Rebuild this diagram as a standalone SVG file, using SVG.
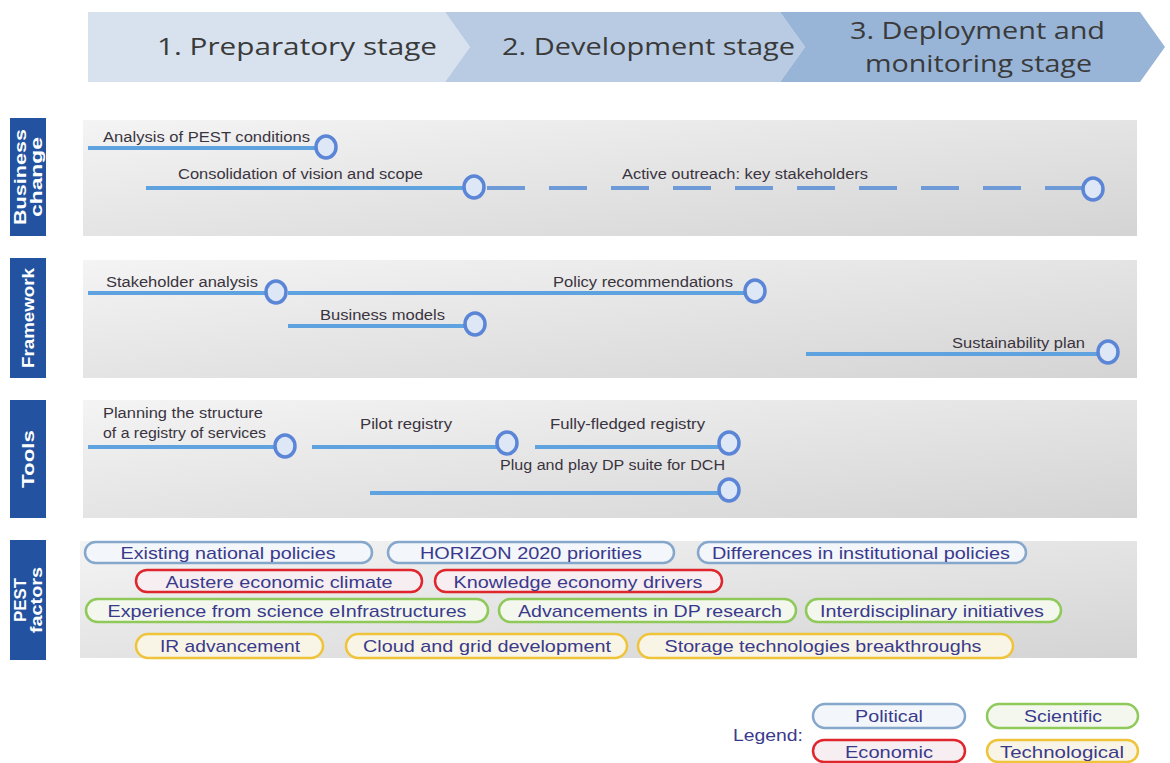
<svg xmlns="http://www.w3.org/2000/svg" width="1170" height="763" viewBox="0 0 1170 763">
<defs>
<linearGradient id="band" x1="0" y1="0" x2="1" y2="1">
<stop offset="0" stop-color="#f4f4f4"/>
<stop offset="1" stop-color="#d4d4d4"/>
</linearGradient>
<style>
.stage{font-family:"Open Sans","Liberation Sans",sans-serif;font-size:24px;fill:#3a3a3a;}
.lbl{font-family:"Liberation Sans",Arial,sans-serif;font-size:17px;font-weight:bold;fill:#ffffff;}
.lblbox{fill:#2353a0;}
.bandr{fill:url(#band);}
.t{font-family:"Liberation Sans",Arial,sans-serif;font-size:14px;fill:#3a3440;}
.ln{stroke:#5ea2e0;stroke-width:4;fill:none;}
.dash{stroke:#6f9ad8;stroke-width:4;fill:none;stroke-dasharray:38 24;}
.ms{fill:#dde7f5;stroke:#5b85d6;stroke-width:3.5;}
.pill{stroke-width:2.5;}
.pol{fill:#f3f6fb;stroke:#86a7cc;}
.eco{fill:#f6eef0;stroke:#e0262d;}
.sci{fill:#f3f7ee;stroke:#8fc95a;}
.tec{fill:#f8f4e6;stroke:#efc33a;}
.pt{font-family:"Liberation Sans",Arial,sans-serif;font-size:17px;fill:#3a3a8c;text-anchor:middle;}
</style>
</defs>
<rect width="1170" height="763" fill="#ffffff"/>

<g id="stages">
<g id="stage1"><polygon points="88,12 445,12 470,47 445,82 88,82" fill="#d7e2ee"/><text class="stage" x="157" y="55" textLength="280" lengthAdjust="spacingAndGlyphs">1.  Preparatory stage</text></g>
<g id="stage2"><polygon points="445,12 780,12 805,47 780,82 445,82 470,47" fill="#b8cbe2"/><text class="stage" x="502" y="55" textLength="293" lengthAdjust="spacingAndGlyphs">2. Development stage</text></g>
<g id="stage3"><polygon points="780,12 1140,12 1165,47 1140,82 780,82 805,47" fill="#98b5d8"/><text class="stage" x="850" y="39" textLength="255" lengthAdjust="spacingAndGlyphs">3. Deployment and</text><text class="stage" x="865" y="72" textLength="227" lengthAdjust="spacingAndGlyphs">monitoring stage</text></g>
</g>

<g id="row-business">
<rect class="lblbox" x="10" y="118" width="36" height="118"/>
<text class="lbl" transform="translate(26,177) rotate(-90)" text-anchor="middle" textLength="96" lengthAdjust="spacingAndGlyphs">Business</text>
<text class="lbl" transform="translate(42,177) rotate(-90)" text-anchor="middle" textLength="80" lengthAdjust="spacingAndGlyphs">change</text>
<rect class="bandr" x="83" y="120" width="1054" height="116"/>
</g>
<g id="row-framework">
<rect class="lblbox" x="10" y="258" width="36" height="120"/>
<text class="lbl" transform="translate(34,318) rotate(-90)" text-anchor="middle" textLength="100" lengthAdjust="spacingAndGlyphs">Framework</text>
<rect class="bandr" x="83" y="260" width="1054" height="118"/>
</g>
<g id="row-tools">
<rect class="lblbox" x="10" y="400" width="36" height="118"/>
<text class="lbl" transform="translate(34,459) rotate(-90)" text-anchor="middle" textLength="58" lengthAdjust="spacingAndGlyphs">Tools</text>
<rect class="bandr" x="83" y="400" width="1054" height="118"/>
</g>
<g id="row-pest">
<rect class="lblbox" x="10" y="540" width="36" height="120"/>
<text class="lbl" transform="translate(26,600) rotate(-90)" text-anchor="middle" textLength="44" lengthAdjust="spacingAndGlyphs">PEST</text>
<text class="lbl" transform="translate(42,600) rotate(-90)" text-anchor="middle" textLength="66" lengthAdjust="spacingAndGlyphs">factors</text>
<rect class="bandr" x="80" y="541" width="1057" height="117"/>
</g>

<g id="connectors">
<line class="ln" x1="88" y1="148" x2="316" y2="148"/>
<line class="ln" x1="146" y1="188" x2="464" y2="188"/>
<line class="dash" x1="487" y1="188" x2="1083" y2="188"/>
<line class="ln" x1="88" y1="293" x2="266" y2="293"/>
<line class="ln" x1="288" y1="293" x2="745" y2="293"/>
<line class="ln" x1="288" y1="326" x2="465" y2="326"/>
<line class="ln" x1="806" y1="354" x2="1098" y2="354"/>
<line class="ln" x1="88" y1="447" x2="275" y2="447"/>
<line class="ln" x1="312" y1="447" x2="497" y2="447"/>
<line class="ln" x1="535" y1="447" x2="719" y2="447"/>
<line class="ln" x1="370" y1="493" x2="719" y2="493"/>
</g>

<g id="m-pest-analysis"><text class="t" x="103" y="142" textLength="207" lengthAdjust="spacingAndGlyphs">Analysis of PEST conditions</text><ellipse class="ms" cx="326" cy="147" rx="10" ry="11"/></g>
<g id="m-consolidation"><text class="t" x="178" y="179" textLength="245" lengthAdjust="spacingAndGlyphs">Consolidation of vision and scope</text><ellipse class="ms" cx="474" cy="187" rx="10" ry="11"/></g>
<g id="m-outreach"><text class="t" x="622" y="179" textLength="246" lengthAdjust="spacingAndGlyphs">Active outreach: key stakeholders</text><ellipse class="ms" cx="1093" cy="189" rx="10" ry="11"/></g>

<g id="m-stakeholder"><text class="t" x="106" y="287" textLength="152" lengthAdjust="spacingAndGlyphs">Stakeholder analysis</text><ellipse class="ms" cx="276" cy="292" rx="10" ry="11"/></g>
<g id="m-policy"><text class="t" x="553" y="287" textLength="180" lengthAdjust="spacingAndGlyphs">Policy recommendations</text><ellipse class="ms" cx="755" cy="291" rx="10" ry="11"/></g>
<g id="m-business-models"><text class="t" x="320" y="320" textLength="125" lengthAdjust="spacingAndGlyphs">Business models</text><ellipse class="ms" cx="475" cy="324" rx="10" ry="11"/></g>
<g id="m-sustainability"><text class="t" x="952" y="348" textLength="133" lengthAdjust="spacingAndGlyphs">Sustainability plan</text><ellipse class="ms" cx="1108" cy="352" rx="10" ry="11"/></g>

<g id="m-planning"><text class="t" x="103" y="418" textLength="160" lengthAdjust="spacingAndGlyphs">Planning the structure</text><text class="t" x="103" y="438" textLength="163" lengthAdjust="spacingAndGlyphs">of a registry of services</text><ellipse class="ms" cx="285" cy="446" rx="10" ry="11"/></g>
<g id="m-pilot"><text class="t" x="360" y="429" textLength="92" lengthAdjust="spacingAndGlyphs">Pilot registry</text><ellipse class="ms" cx="507" cy="443" rx="10" ry="11"/></g>
<g id="m-fully"><text class="t" x="550" y="429" textLength="155" lengthAdjust="spacingAndGlyphs">Fully-fledged registry</text><ellipse class="ms" cx="729" cy="443" rx="10" ry="11"/></g>
<g id="m-plug"><text class="t" x="500" y="470" textLength="225" lengthAdjust="spacingAndGlyphs">Plug and play DP suite for DCH</text><ellipse class="ms" cx="729" cy="490" rx="10" ry="11"/></g>

<g id="pest-factors">
<g id="f1"><rect class="pill pol" x="85" y="542" width="287" height="21" rx="10.5"/><text class="pt" x="228" y="559" textLength="215" lengthAdjust="spacingAndGlyphs">Existing national policies</text></g>
<g id="f2"><rect class="pill pol" x="388" y="542" width="286" height="21" rx="10.5"/><text class="pt" x="531" y="559" textLength="222" lengthAdjust="spacingAndGlyphs">HORIZON 2020 priorities</text></g>
<g id="f3"><rect class="pill pol" x="698" y="542" width="328" height="21" rx="10.5"/><text class="pt" x="861" y="559" textLength="298" lengthAdjust="spacingAndGlyphs">Differences in institutional policies</text></g>
<g id="f4"><rect class="pill eco" x="136" y="570" width="286" height="22" rx="11"/><text class="pt" x="279" y="588" textLength="227" lengthAdjust="spacingAndGlyphs">Austere economic climate</text></g>
<g id="f5"><rect class="pill eco" x="435" y="570" width="287" height="22" rx="11"/><text class="pt" x="578" y="588" textLength="249" lengthAdjust="spacingAndGlyphs">Knowledge economy drivers</text></g>
<g id="f6"><rect class="pill sci" x="86" y="599" width="402" height="23" rx="11.5"/><text class="pt" x="287" y="617" textLength="359" lengthAdjust="spacingAndGlyphs">Experience from science eInfrastructures</text></g>
<g id="f7"><rect class="pill sci" x="499" y="599" width="297" height="23" rx="11.5"/><text class="pt" x="650" y="617" textLength="264" lengthAdjust="spacingAndGlyphs">Advancements in DP research</text></g>
<g id="f8"><rect class="pill sci" x="806" y="599" width="255" height="23" rx="11.5"/><text class="pt" x="932" y="617" textLength="224" lengthAdjust="spacingAndGlyphs">Interdisciplinary initiatives</text></g>
<g id="f9"><rect class="pill tec" x="136" y="634" width="187" height="24" rx="12"/><text class="pt" x="230" y="652" textLength="140" lengthAdjust="spacingAndGlyphs">IR advancement</text></g>
<g id="f10"><rect class="pill tec" x="346" y="634" width="281" height="24" rx="12"/><text class="pt" x="487" y="652" textLength="248" lengthAdjust="spacingAndGlyphs">Cloud and grid development</text></g>
<g id="f11"><rect class="pill tec" x="638" y="634" width="375" height="24" rx="12"/><text class="pt" x="823" y="652" textLength="317" lengthAdjust="spacingAndGlyphs">Storage technologies breakthroughs</text></g>
</g>

<g id="legend">
<text class="pt" x="768" y="741" textLength="70" lengthAdjust="spacingAndGlyphs">Legend:</text>
<g id="leg-pol"><rect class="pill pol" x="813" y="704" width="152" height="24" rx="12"/><text class="pt" x="889" y="722" textLength="68" lengthAdjust="spacingAndGlyphs">Political</text></g>
<g id="leg-sci"><rect class="pill sci" x="987" y="704" width="151" height="24" rx="12"/><text class="pt" x="1063" y="722" textLength="78" lengthAdjust="spacingAndGlyphs">Scientific</text></g>
<g id="leg-eco"><rect class="pill eco" x="813" y="740" width="152" height="22" rx="11"/><text class="pt" x="889" y="758" textLength="88" lengthAdjust="spacingAndGlyphs">Economic</text></g>
<g id="leg-tec"><rect class="pill tec" x="987" y="740" width="151" height="22" rx="11"/><text class="pt" x="1062" y="758" textLength="124" lengthAdjust="spacingAndGlyphs">Technological</text></g>
</g>
</svg>
